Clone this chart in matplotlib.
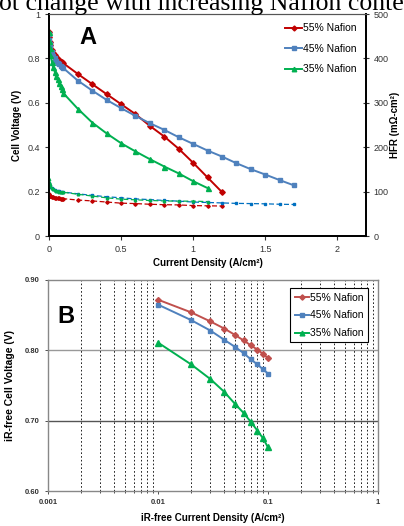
import numpy as np
import matplotlib
matplotlib.use('Agg')
import matplotlib.pyplot as plt
from matplotlib.ticker import FixedLocator, NullFormatter

plt.rcParams['font.family'] = ['Liberation Sans', 'DejaVu Sans']

# ── Panel A: polarization + HFR ─────────────────────────────────────────────
x_low = [0, 0.002, 0.005, 0.01, 0.02, 0.03, 0.04, 0.05, 0.06, 0.07, 0.08, 0.09]
x_55 = x_low + [0.1, 0.2, 0.3, 0.4, 0.5, 0.6, 0.7, 0.8, 0.9, 1.0, 1.1, 1.2]
x_45 = x_55 + [1.3, 1.4, 1.5, 1.6, 1.7]
x_35 = x_low + [0.1, 0.2, 0.3, 0.4, 0.5, 0.6, 0.7, 0.8, 0.9, 1.0, 1.1]

v_55 = [0.92, 0.895, 0.875, 0.86, 0.84, 0.825, 0.815, 0.805, 0.798, 0.792, 0.786, 0.782,
        0.778, 0.730, 0.684, 0.639, 0.594, 0.549, 0.496, 0.448, 0.393, 0.330, 0.264, 0.198]
v_45 = [0.91, 0.885, 0.865, 0.85, 0.828, 0.812, 0.80, 0.79, 0.781, 0.773, 0.766, 0.76,
        0.756, 0.700, 0.655, 0.613, 0.576, 0.541, 0.508, 0.478, 0.445, 0.415, 0.385, 0.358,
        0.328, 0.301, 0.277, 0.252, 0.228]
v_35 = [0.92, 0.88, 0.845, 0.815, 0.785, 0.76, 0.74, 0.72, 0.705, 0.69, 0.675, 0.66,
        0.643, 0.573, 0.511, 0.462, 0.418, 0.381, 0.346, 0.313, 0.282, 0.247, 0.216]

hfr_55 = [95, 93, 91, 90, 88, 87, 86, 85.5, 85, 84.5, 84, 84,
          84, 81, 79, 76.5, 74, 73, 71.5, 70.5, 70, 68.5, 68, 67.5]
hfr_45 = [120, 116, 112, 110, 107, 105, 103, 102, 101, 100.5, 100, 99.5,
          99, 95, 91.5, 88.5, 86, 83.5, 82, 80, 78.5, 76.5, 75.5, 74.5,
          73.5, 73, 72.5, 71.5, 71]
hfr_35 = [128, 122, 116, 112, 108, 105, 103, 102, 101, 100, 99.5, 99,
          98.5, 94, 90, 86, 83, 81.5, 80, 79, 78.5, 78.5, 77.5]

# ── Panel B: iR-free Tafel ──────────────────────────────────────────────────
i_b = [0.01, 0.02, 0.03, 0.04, 0.05, 0.06, 0.07, 0.08, 0.09, 0.1]
vir_55 = [0.872, 0.854, 0.841, 0.831, 0.822, 0.814, 0.807, 0.801, 0.795, 0.789]
vir_45 = [0.865, 0.843, 0.828, 0.815, 0.805, 0.796, 0.787, 0.780, 0.773, 0.767]
vir_35 = [0.811, 0.780, 0.759, 0.741, 0.724, 0.711, 0.698, 0.686, 0.675, 0.662]

labels = ['55% Nafion', '45% Nafion', '35% Nafion']

RED_A, BLUE_A, GREEN_A = '#C00000', '#4F81BD', '#00B050'
BLUE_HFR = '#0070C0'
RED_B, BLUE_B, GREEN_B = '#C0504D', '#4F81BD', '#00B050'

fig = plt.figure(figsize=(4.04, 5.26), dpi=100)

# cropped caption text from the source page
fig.text(-0.003, 1 - 10 / 526, 'ot change with increasing Nafion conte',
         family='Liberation Serif', fontsize=18.5, va='baseline', ha='left')

# ── A ──
axA = fig.add_axes([49 / 404, 1 - 236 / 526, 317 / 404, 222 / 526])
axR = axA.twinx()

series_a = [(x_55, v_55, hfr_55, RED_A, 'D', RED_A),
            (x_45, v_45, hfr_45, BLUE_A, 's', BLUE_HFR),
            (x_35, v_35, hfr_35, GREEN_A, '^', GREEN_A)]
for (x, v, h, c, m, ch), lab in zip(series_a, labels):
    axA.plot(x, v, color=c, marker=m, ms=2.8 if m != '^' else 3.6, lw=1.4, label=lab)
    axR.plot(x, h, color=ch, marker=m, ms=1.8, lw=0.9, ls=(0, (4, 2)))

axA.set_xlim(0, 2.2)
axA.set_ylim(0, 1)
axR.set_ylim(0, 500)
axA.set_xticks([0, 0.5, 1, 1.5, 2])
axA.set_xticklabels(['0', '0.5', '1', '1.5', '2'])
axA.set_yticks([0, 0.2, 0.4, 0.6, 0.8, 1])
axA.set_yticklabels(['0', '0.2', '0.4', '0.6', '0.8', '1'])
axR.set_yticks([0, 100, 200, 300, 400, 500])
axA.tick_params(labelsize=6.5, length=3, width=0.8, colors='#333333')
axR.tick_params(labelsize=6.5, length=4, width=0.8, direction='inout', colors='#333333')
for sp in ['left', 'right', 'bottom']:
    axR.spines[sp].set_linewidth(1.3)
    axA.spines[sp].set_linewidth(1.3)
axR.spines['top'].set_color('#555555')
axA.spines['top'].set_color('#555555')
axA.set_xlabel('Current Density (A/cm\u00b2)', fontsize=7, fontweight='bold', labelpad=3)
axA.set_ylabel('Cell Voltage (V)', fontsize=7, fontweight='bold', labelpad=4)
axR.set_ylabel('HFR (m\u03a9-cm\u00b2)', fontsize=7, fontweight='bold', labelpad=1)
axA.text(0.123, 0.896, 'A', transform=axA.transAxes, fontsize=17, fontweight='bold',
         ha='center', va='center')
axA.legend(loc='upper right', bbox_to_anchor=(1.0, 1.0), frameon=False, fontsize=7.5,
           handlelength=1.6, handletextpad=0.1, labelspacing=1.0, markerscale=0.9)

# ── B ──
axB = fig.add_axes([48 / 404, 1 - 491 / 526, 330 / 404, 211 / 526])
series_b = [(vir_55, RED_B, 'D'), (vir_45, BLUE_B, 's'), (vir_35, GREEN_B, '^')]
for (v, c, m), lab in zip(series_b, labels):
    axB.plot(i_b, v, color=c, marker=m, ms=3.0 if m != '^' else 3.8, lw=1.4, label=lab)

axB.set_xscale('log')
axB.set_xlim(0.001, 1)
axB.set_ylim(0.6, 0.9)
axB.set_xticks([0.001, 0.01, 0.1, 1])
axB.set_xticklabels(['0.001', '0.01', '0.1', '1'])
minors = [k * d for d in (0.001, 0.01, 0.1) for k in range(2, 10)]
axB.xaxis.set_minor_locator(FixedLocator(minors))
axB.xaxis.set_minor_formatter(NullFormatter())
axB.set_yticks([0.6, 0.7, 0.8, 0.9])
axB.set_yticklabels(['0.60', '0.70', '0.80', '0.90'])
axB.tick_params(labelsize=5.5, length=2.5, width=0.6, colors='#333333')
axB.tick_params(which='minor', length=1.5, width=0.5)
for t in axB.get_xticklabels() + axB.get_yticklabels():
    t.set_fontweight('bold')
axB.grid(True, which='minor', axis='x', color='black', lw=0.6, ls=(0, (2, 2.5)))
axB.axhline(0.8, color='#999999', lw=1.0, zorder=0.5)
axB.axhline(0.7, color='#555555', lw=1.0, zorder=0.5)
for sp in axB.spines.values():
    sp.set_color('#888888')
    sp.set_linewidth(1.0)
axB.set_xlabel('iR-free Current Density (A/cm\u00b2)', fontsize=7, fontweight='bold', labelpad=5)
axB.set_ylabel('iR-free Cell Voltage (V)', fontsize=7.5, fontweight='bold', labelpad=7)
axB.text(0.055, 0.825, 'B', transform=axB.transAxes, fontsize=17, fontweight='bold',
         ha='center', va='center')
leg = axB.legend(loc='upper right', bbox_to_anchor=(0.985, 0.985), fancybox=False,
                 fontsize=7.5, handlelength=1.4, handletextpad=0.1, labelspacing=0.75,
                 borderpad=0.4, markerscale=0.9, framealpha=1)
leg.get_frame().set_edgecolor('black')
leg.get_frame().set_linewidth(0.8)

fig.savefig('out.png', dpi=100)
